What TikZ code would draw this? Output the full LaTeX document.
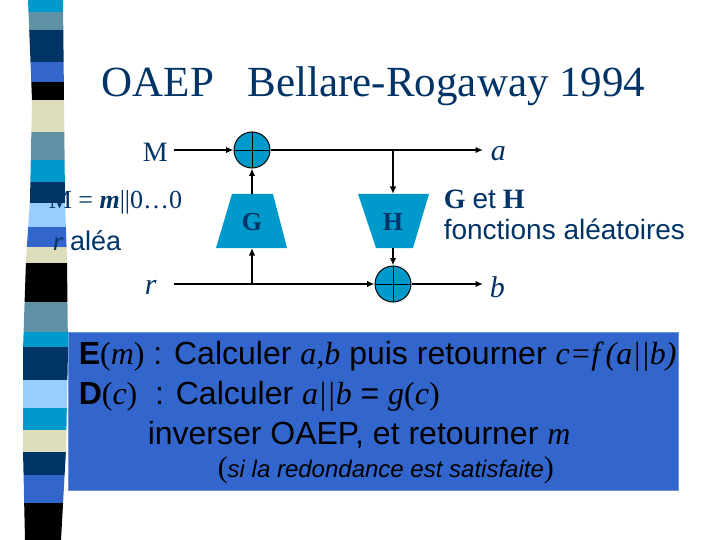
\documentclass[tikz,border=0pt]{standalone}
\usepackage{fontspec}
\setmainfont{Liberation Serif}
\newfontfamily\sansf{Liberation Sans}
\usetikzlibrary{arrows.meta}
\definecolor{navy}{HTML}{003366}
\definecolor{cyanb}{HTML}{0099CC}
\definecolor{greyteal}{HTML}{5F91A5}
\definecolor{royal}{HTML}{3366CC}
\definecolor{beige}{HTML}{DDDDBB}
\definecolor{lightb}{HTML}{99CCFF}
\definecolor{xorfill}{HTML}{0099CC}
\newcommand{\fs}[1]{\fontsize{#1}{#1}\selectfont}
\begin{document}
\begin{tikzpicture}[x=1pt,y=-1pt, line width=1.5pt,
  >={Latex[length=7.5pt,width=6.5pt]},
  txt/.style={inner sep=0pt, anchor=base west, text=navy},
  boxtxt/.style={inner sep=0pt, anchor=base west, text=black},
  xorc/.style={circle, draw=black, line width=1pt, fill=xorfill, minimum size=36pt, inner sep=0pt,
    path picture={\draw[line width=0.8pt] (path picture bounding box.north) -- (path picture bounding box.south)
      (path picture bounding box.west) -- (path picture bounding box.east);}},
  trap/.style={fill=xorfill},
  lab/.style={inner sep=0pt, text=navy, font=\fs{26}\bfseries}]
\useasboundingbox (0,0) rectangle (720,540);
\fill[white] (0,0) rectangle (720,540);
% stripe bar
\begin{scope}
\clip (28,0) -- (63,0) -- (64,100) -- (65,200) -- (67,260) -- (68,350) -- (66,450) -- (61,540)
  -- (25,540) -- (23,450) -- (23,350) -- (26,260) -- (30,200) -- (32,100) -- cycle;
\foreach \a/\b/\c in {0/12/cyanb,12/30/greyteal,30/62/navy,62/82/royal,82/100/black,100/132/beige,
  132/160/greyteal,160/182/cyanb,182/203/navy,203/227/lightb,227/247/royal,247/263/beige,263/302/black,
  302/332/greyteal,332/347/cyanb,347/380/navy,380/408/lightb,408/430/cyanb,430/452/beige,452/475/navy,
  475/503/royal,503/540/black}
  \fill[\c] (0,\a) rectangle (100,\b);
\end{scope}
% title
\node[txt, font=\fs{43}] (t1) at (101,97) {OAEP};
\node[txt, font=\fs{43}] (t2) at (247,97) {Bellare-Rogaway 1994};
% left labels
\node[txt, font=\fs{26}] (mdef) at (48,208) {M = \textbf{\textit{m}}||0…0};
\node[txt, font=\fs{27}] (rdef) at (52,251) {\textit{r} {\sansf aléa}};
% diagram
\node[txt, font=\fs{28}] (M) at (142,162) {M};
\node[txt, font=\fs{30}\itshape] (r) at (144,294) {r};
\node[txt, font=\fs{30}\itshape] (a) at (490,161) {a};
\node[txt, font=\fs{30}\itshape] (b) at (489,297) {b};
\node[xorc] (x1) at (252,150) {};
\node[xorc] (x2) at (393,284) {};
\fill[trap] (232,194) -- (273,194) -- (287,248) -- (216,248) -- cycle;
\fill[trap] (358,194) -- (429,194) -- (413,248) -- (376,248) -- cycle;
\node[lab] (G) at (252,222) {G};
\node[lab] (H) at (393,222) {H};
\coordinate (gtop) at (252,194);
\coordinate (gbot) at (252,248);
\coordinate (htop) at (393,194);
\coordinate (hbot) at (393,248);
\coordinate (min) at (174,150);
\coordinate (rin) at (174,284);
\coordinate (aout) at (483,150);
\coordinate (bout) at (483,284);
\coordinate (hsplit) at (393,150);
\coordinate (gsplit) at (252,284);
\draw[->] (min) -- (x1);
\draw[->] (x1) -- (aout);
\draw[->] (hsplit) -- (htop);
\draw[->] (hbot) -- (x2);
\draw[->] (gtop) -- (x1);
\draw[->] (rin) -- (x2);
\draw[->] (gsplit) -- (gbot);
\draw[->] (x2) -- (bout);
% right text
\node[txt, font=\fs{28}] (geth) at (443,208) {\textbf{G} {\sansf et} \textbf{H}};
\node[txt, font=\fs{28}\sansf] (fct) at (443,240) {fonctions aléatoires};
% blue box
\fill[royal] (68,332) rectangle (678,490);
\draw[line width=0.6pt, color=royal!70!white] (68,332) rectangle (678,490);
\node[boxtxt, font=\fs{32}\sansf] (l1) at (78,364)
  {\textbf{E}{\rmfamily(\textit{m})} : Calculer {\rmfamily\itshape a,b} puis retourner {\rmfamily\itshape c=f\,(a||b)}};
\node[boxtxt, font=\fs{32}\sansf] (l2) at (78,404)
  {\textbf{D}{\rmfamily(\textit{c})}\ \ : Calculer {\rmfamily\itshape a||b} = {\rmfamily\itshape g}{\rmfamily(\textit{c})}};
\node[boxtxt, font=\fs{32}\sansf] (l3) at (147,444)
  {inverser OAEP, et retourner {\rmfamily\itshape m}};
\node[boxtxt, font=\fs{24}\sansf] (l4) at (217,477)
  {{\rmfamily\fs{30}(}\textit{si la redondance est satisfaite}{\rmfamily\fs{30})}};
\end{tikzpicture}
\end{document}
